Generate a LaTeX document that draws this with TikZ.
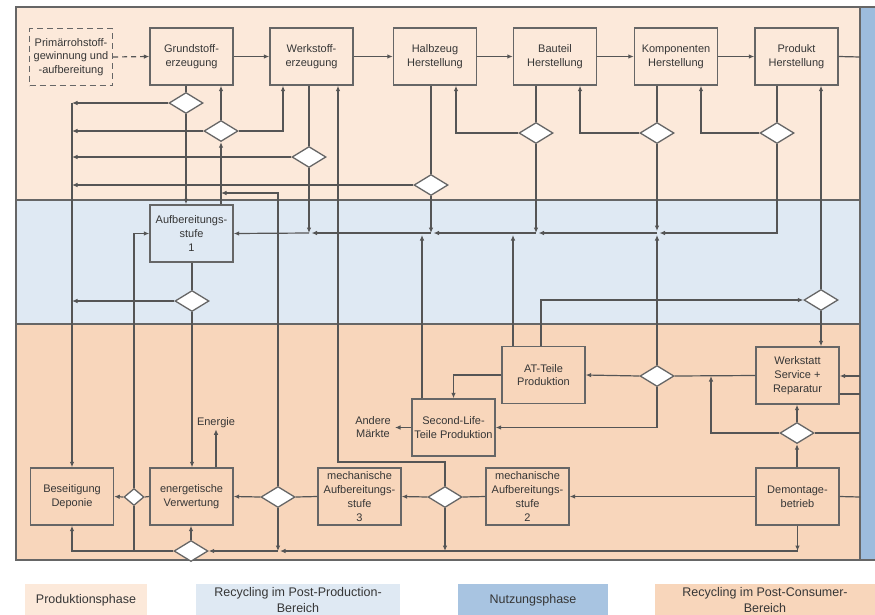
\documentclass[tikz,border=0pt]{standalone}
\usepackage{fontspec}
\setmainfont{Liberation Sans}
\usetikzlibrary{arrows.meta,shapes.geometric,calc}
\definecolor{prodc}{HTML}{FCE9DA}
\definecolor{ppc}{HTML}{DFE9F3}
\definecolor{pcc}{HTML}{F8D6BB}
\definecolor{nutz}{HTML}{9DBCDD}
\definecolor{nutzl}{HTML}{A8C4E1}
\definecolor{linec}{HTML}{555555}
\definecolor{boxc}{HTML}{666666}
\definecolor{txtc}{HTML}{363636}
\begin{document}
\begin{tikzpicture}[x=1pt,y=-1pt,
  box/.style={draw=boxc, line width=1.4pt, minimum width=83pt, minimum height=57pt, inner sep=1pt, align=center, font=\fontsize{11}{13.8}\selectfont, text=txtc},
  dia/.style={diamond, draw=boxc, line width=1.3pt, fill=white, minimum width=34pt, minimum height=21pt, inner sep=0pt},
  ln/.style={draw=linec, line width=1.2pt},
  arr/.style={ln, -{Latex[length=5.5pt,width=4.6pt]}},
  lbl/.style={text=txtc, font=\fontsize{11}{13.8}\selectfont, align=center, inner sep=1pt},
  leg/.style={text=txtc, font=\fontsize{12.5}{15.5}\selectfont, align=center, minimum height=32pt, inner sep=1pt},
]
\useasboundingbox (0,0) rectangle (875,614);
% bands
\fill[prodc] (16,7) rectangle (860,200);
\fill[ppc] (16,200) rectangle (860,324);
\fill[pcc] (16,324) rectangle (860,560);
\fill[nutz] (860,7) rectangle (875,560);
\draw[boxc, line width=1.3pt] (16,200) -- (860,200) (16,324) -- (860,324);
\draw[boxc, line width=1.5pt] (875,7) -- (16,7) -- (16,560) -- (875,560);
\draw[boxc, line width=1.3pt] (860,7) -- (860,560);

% boxes
\node[box, fill=prodc, dash pattern=on 6pt off 4pt] (prim) at (71,57) {Primärrohstoff-\\gewinnung und\\-aufbereitung};
\node[box, fill=prodc] (grund) at (191.5,56.5) {Grundstoff-\\erzeugung};
\node[box, fill=prodc] (werk) at (311.5,56.5) {Werkstoff-\\erzeugung};
\node[box, fill=prodc] (halb) at (435,56.5) {Halbzeug\\Herstellung};
\node[box, fill=prodc] (baut) at (555,56.5) {Bauteil\\Herstellung};
\node[box, fill=prodc] (komp) at (676,56.5) {Komponenten\\Herstellung};
\node[box, fill=prodc] (prod) at (796.5,56.5) {Produkt\\Herstellung};
\node[box, fill=ppc] (auf1) at (191.5,233.5) {Aufbereitungs-\\stufe\\1};
\node[box, fill=pcc] (at) at (543.5,375) {AT-Teile\\Produktion};
\node[box, fill=pcc] (sl) at (453.5,427.5) {Second-Life-\\Teile Produktion};
\node[box, fill=pcc] (ws) at (797.5,375.5) {Werkstatt\\Service +\\Reparatur};
\node[box, fill=pcc] (dem) at (797.5,496.5) {Demontage-\\betrieb};
\node[box, fill=pcc] (m2) at (527.5,496.5) {mechanische\\Aufbereitungs-\\stufe\\2};
\node[box, fill=pcc] (m3) at (359.5,496.5) {mechanische\\Aufbereitungs-\\stufe\\3};
\node[box, fill=pcc] (en) at (191.5,496.5) {energetische\\Verwertung};
\node[box, fill=pcc] (bes) at (72,496.5) {Beseitigung\\Deponie};
\node[lbl] (amt) at (373,427) {Andere\\Märkte};
\node[lbl] (energie) at (216,423) {Energie};

% diamonds
\node[dia] (d1) at (186,103) {};
\node[dia] (d2) at (221,131) {};
\node[dia] (d3) at (309,157) {};
\node[dia] (d4) at (431,185) {};
\node[dia] (d5) at (536,133) {};
\node[dia] (d6) at (657,133) {};
\node[dia] (d7) at (777,133) {};
\node[dia] (d8) at (192,301) {};
\node[dia] (d9) at (821,300) {};
\node[dia] (d10) at (657,376) {};
\node[dia] (d11) at (797,433) {};
\node[dia] (d12) at (278,497) {};
\node[dia] (d13) at (445,497) {};
\node[dia, minimum width=20pt, minimum height=17pt] (d14) at (134,497) {};
\node[dia] (d15) at (191,551) {};

% coordinates
\coordinate (bus) at (72,103);
\coordinate (j193) at (221,193);
\coordinate (c338) at (338,462);
\coordinate (c283) at (283,131);
\coordinate (b309) at (309,233);
\coordinate (b431) at (431,233);
\coordinate (b536) at (536,233);
\coordinate (b657) at (657,233);
\coordinate (b657u) at (657,231);
\coordinate (b657d) at (657,235);
\coordinate (b660) at (659.5,233);
\coordinate (b536r) at (538.5,233);
\coordinate (b431r) at (433.5,233);
\coordinate (b309r) at (311.5,233);
\coordinate (bt513) at (513,235);
\coordinate (bt422) at (422,235);
\coordinate (c711) at (711,376);
\coordinate (n57) at (860,57);
\coordinate (n376) at (860,376);
\coordinate (n394) at (860,394);
\coordinate (n433) at (860,433);
\coordinate (n497) at (860,497);
\coordinate (f445) at (445,551);
\coordinate (f797) at (797.5,551);
\coordinate (f278) at (278,551);
\coordinate (f278r) at (280,551);
\coordinate (f134) at (134,551);
\coordinate (am) at (395,427.5);

% top chain
\draw[arr, dash pattern=on 5pt off 4pt] (prim.east) -- (grund.west);
\draw[arr] (grund) -- (werk);
\draw[arr] (werk) -- (halb);
\draw[arr] (halb) -- (baut);
\draw[arr] (baut) -- (komp);
\draw[arr] (komp) -- (prod);
\draw[ln] (prod.east) -- (n57);

% Grundstoff
\draw[ln] (grund.south -| d1) -- (d1.north);
\draw[arr] (d1.west) -- (d1.west -| bus);
\draw[arr] (d1.south) -- (auf1.north -| d1);
\draw[arr] (auf1.north -| d2) -- (d2.south);
\draw[arr] (d2.north) -- (grund.south -| d2);
\draw[arr] (d2.west) -- (d2.west -| bus);
\draw[arr] (d2.east) -| (werk.south -| c283);
\draw[arr] (d12.north) |- (j193);

% Werkstoff
\draw[ln] (werk.south -| d3) -- (d3.north);
\draw[arr] (d3.west) -- (d3.west -| bus);
\draw[arr] (d3.south) -- (b309);
\draw[arr] (d13.north) |- (c338) -- (werk.south -| c338);

% Halbzeug .. Produkt
\draw[ln] (halb.south -| d4) -- (d4.north);
\draw[arr] (d4.west) -- (d4.west -| bus);
\draw[arr] (d4.south) -- (b431);
\draw[ln] (baut.south -| d5) -- (d5.north);
\draw[arr] (d5.west) -| ([xshift=21pt]halb.south);
\draw[arr] (d5.south) -- (b536);
\draw[ln] (komp.south -| d6) -- (d6.north);
\draw[arr] (d6.west) -| ([xshift=25pt]baut.south);
\draw[arr] (d6.south) -- (b657u);
\draw[ln] (prod.south -| d7) -- (d7.north);
\draw[arr] (d7.west) -| ([xshift=25pt]komp.south);
\draw[arr] (d7.south) |- (b660);

% bus y=233
\draw[arr] (b657) -- (b536r);
\draw[arr] (b536) -- (b431r);
\draw[arr] (b431) -- (b309r);
\draw[arr] (b309) -- (auf1.east);
\draw[arr] (d10.north) -- (b657d);
\draw[arr] ([xshift=-30.5pt]at.north) -- (bt513);
\draw[arr] ([xshift=-31.5pt]sl.north) -- (bt422);

% Aufbereitungsstufe 1
\draw[ln] (auf1.south -| d8) -- (d8.north);
\draw[arr] (d8.west) -- (d8.west -| bus);
\draw[arr] (d8.south) -- (en.north -| d8);
\draw[arr] (bus) -- (bes.north);

% AT-Teile / Werkstatt
\draw[arr] ([xshift=-2.5pt]at.north) |- (d9.west);
\draw[arr] (d9.north) -- (prod.south -| d9);
\draw[arr] (d9.south) -- (ws.north -| d9);
\draw[arr] (at.west) -| (sl.north);
\draw[arr] (sl.west) -- (am);
\draw[arr] (d10.west) -- (at.east);
\draw[arr] (d10.south) |- (sl.east);
\draw[ln] (ws.west) -- (d10.east);
\draw[arr] (d11.west) -| (c711);
\draw[arr] (d11.north) -- (ws.south -| d11);
\draw[arr] (dem.north -| d11) -- (d11.south);
\draw[ln] (d11.east) -- (n433);
\draw[arr] (n376) -- (ws.east |- n376);
\draw[ln] (ws.east |- n394) -- (n394);
\draw[ln] (dem.east) -- (n497);

% bottom row
\draw[arr] (dem.west) -- (m2.east);
\draw[ln] (m2.west) -- (d13.east);
\draw[arr] (d13.west) -- (m3.east);
\draw[ln] (m3.west) -- (d12.east);
\draw[arr] (d12.west) -- (en.east);
\draw[ln] (en.west) -- (d14.east);
\draw[arr] (d14.west) -- (bes.east);
\draw[arr] (d13.south) -- (f445);
\draw[arr] (dem.south) -- (f797);
\draw[ln] (f797) -- (f445);
\draw[arr] (f445) -- (f278r);
\draw[arr] (d12.south) -- (f278);
\draw[arr] (f278) -- (d15.east);
\draw[arr] (d15.north) -- (en.south -| d15);
\draw[arr] (d15.west) -| (bes.south);
\draw[ln] (f134) -- (d14.south);
\draw[arr] (d14.north) |- (auf1.west);
\draw[arr, line width=1.6pt] ([xshift=24.5pt]en.north) -- (energie.south);

% legend
\node[leg, fill=prodc, minimum width=122pt] (lg1) at (86,600) {Produktionsphase};
\node[leg, fill=ppc, minimum width=204pt] (lg2) at (298,600) {Recycling im Post-Production-\\Bereich};
\node[leg, fill=nutzl, minimum width=150pt] (lg3) at (533,600) {Nutzungsphase};
\node[leg, fill=pcc, minimum width=220pt] (lg4) at (765,600) {Recycling im Post-Consumer-\\Bereich};
\end{tikzpicture}
\end{document}
